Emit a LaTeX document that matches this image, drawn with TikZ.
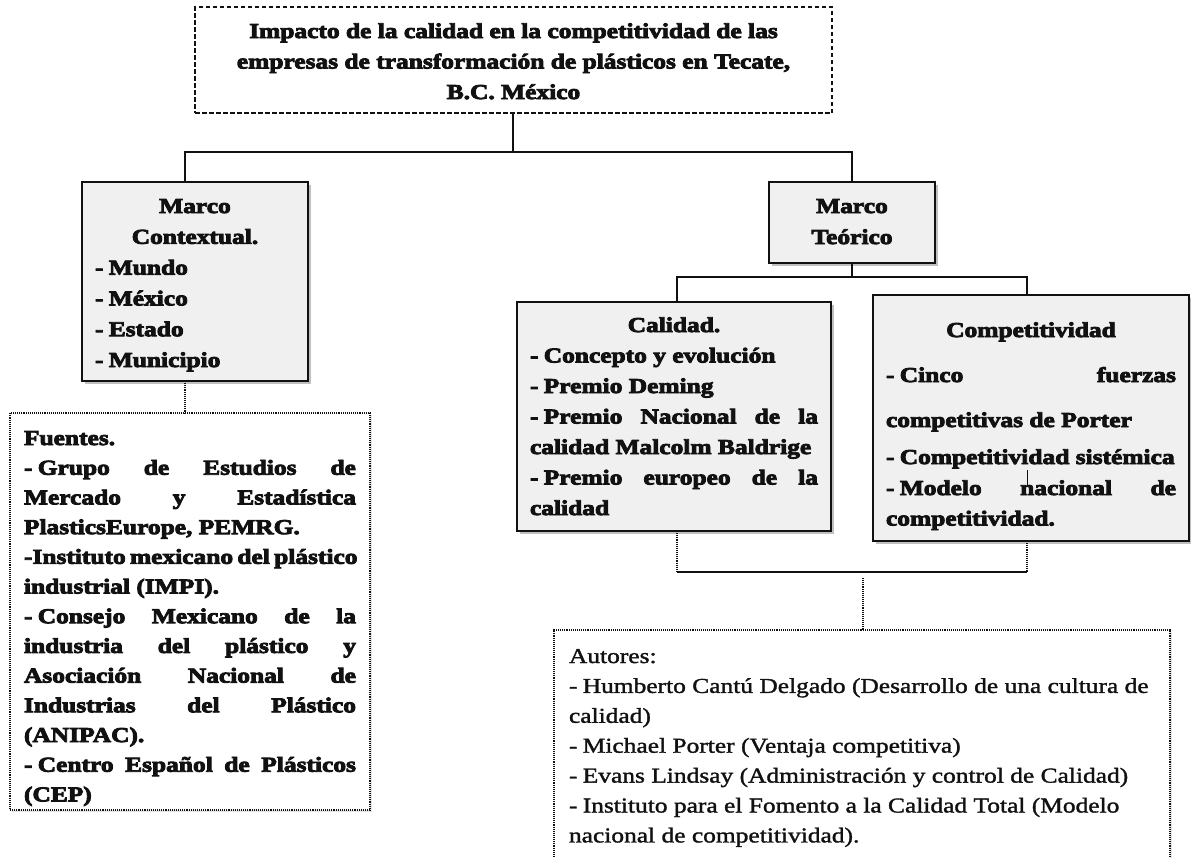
\documentclass[tikz,border=0pt]{standalone}
\usepackage{fontspec}
\setmainfont{Liberation Serif}[FakeStretch=1.2, FakeBold=1.5, BoldFeatures={FakeBold=4}]
\usetikzlibrary{shadows,calc}
\definecolor{boxgray}{HTML}{F0F0F0}
\definecolor{ink}{HTML}{111111}
% plain word spacing inside a line box
\newcommand\plainsp{\spaceskip=0pt\xspaceskip=0pt\relax}
% list dash followed by a fixed space
\newcommand\dsh{-\kern.25em\relax}
% one line stretched to the full text width
\newcommand\jline[1]{\leavevmode\hbox to\linewidth{\plainsp #1}}
% one line centred in the text width
\newcommand\ctline[1]{\leavevmode\hbox to\linewidth{\plainsp\hfil #1\hfil}}
% one line kept in one piece
\newcommand\nline[1]{\leavevmode\mbox{\plainsp #1}}
\begin{document}
\begin{tikzpicture}[x=1pt,y=-1pt,
  base/.style={anchor=north west, inner ysep=0pt, outer sep=0pt, align=left, text=ink},
  solidbox/.style={base, draw=ink, line width=1.4pt, fill=boxgray,
    drop shadow={shadow xshift=2.5pt, shadow yshift=-2.5pt, fill=black!45, opacity=0.55}},
  dotbox/.style={base, draw=ink, line width=1.2pt, dash pattern=on 1.1pt off 1pt, fill=white,
    drop shadow={shadow xshift=1.5pt, shadow yshift=-2pt, fill=black!25, opacity=0.4}},
  dashbox/.style={base, draw=ink, line width=1.2pt, dash pattern=on 4.5pt off 2.5pt, fill=white},
  conn/.style={draw=ink, line width=1.3pt},
  dotconn/.style={draw=ink, line width=1.2pt, dash pattern=on 1.1pt off 1pt},
  bigbold/.style={font=\fontsize{21.2}{#1}\selectfont\bfseries},
  bigreg/.style={font=\fontsize{21.2}{#1}\selectfont},
]
\useasboundingbox (0,0) rectangle (1191,857);
\clip (0,0) rectangle (1191,857);

% title
\node[dashbox, bigbold=30.5, inner xsep=0pt, text width=637pt, text height=31pt, text depth=75pt] (top) at (195,7)
  {\ctline{Impacto de la calidad en la competitividad de las}\\
   \ctline{empresas de transformación de plásticos en Tecate,}\\
   \ctline{B.C. México}};

% context branch
\node[solidbox, bigbold=30.8, inner xsep=13pt, text width=200pt, text height=31pt, text depth=168pt] (ctx) at (82,182)
  {\ctline{Marco}\\\ctline{Contextual.}\\
   \nline{\dsh Mundo}\\\nline{\dsh México}\\\nline{\dsh Estado}\\\nline{\dsh Municipio}};

\node[dotbox, bigbold=29.7, inner xsep=14pt, text width=332pt, text height=32pt, text depth=365pt] (fue) at (10,413)
  {\nline{Fuentes.}\\
   \jline{\dsh Grupo de Estudios de}\\
   \jline{Mercado y Estadística}\\
   \nline{PlasticsEurope, PEMRG.}\\
   \jline{-Instituto mexicano del plástico}\\
   \nline{industrial (IMPI).}\\
   \jline{\dsh Consejo Mexicano de la}\\
   \jline{industria del plástico y}\\
   \jline{Asociación Nacional de}\\
   \jline{Industrias del Plástico}\\
   \nline{(ANIPAC).}\\
   \jline{\dsh Centro Español de Plásticos}\\
   \nline{(CEP)}};

% theory branch
\node[solidbox, bigbold=31, align=center, inner xsep=0pt, text width=166pt, text height=31pt, text depth=50pt] (teo) at (769,182)
  {Marco\\Teórico};

\node[solidbox, bigbold=30.5, inner xsep=13pt, text width=288pt, text height=30pt, text depth=199pt] (cal) at (517,302)
  {\ctline{Calidad.}\\
   \nline{\dsh Concepto y evolución}\\
   \nline{\dsh Premio Deming}\\
   \jline{\dsh Premio Nacional de la}\\
   \nline{calidad Malcolm Baldrige}\\
   \jline{\dsh Premio europeo de la}\\
   \nline{calidad}};

\node[solidbox, bigbold=30.5, inner xsep=13pt, text width=290pt, text height=42pt, text depth=204pt] (comp) at (873,295)
  {\ctline{Competitividad}\\[14.5pt]
   \jline{\dsh Cinco fuerzas}\\[14.5pt]
   \nline{competitivas de Porter}\\[6.5pt]
   \nline{\dsh Competitividad sistémica}\\[0.5pt]
   \jline{\dsh Modelo nacional de}\\
   \nline{competitividad.}};

\node[dotbox, bigreg=29.9, inner xsep=15pt, text width=586pt, text height=33pt, text depth=250pt] (aut) at (554,630)
  {\nline{Autores:}\\
   \nline{\dsh Humberto Cantú Delgado (Desarrollo de una cultura de}\\
   \nline{calidad)}\\
   \nline{\dsh Michael Porter (Ventaja competitiva)}\\
   \nline{\dsh Evans Lindsay (Administración y control de Calidad)}\\
   \nline{\dsh Instituto para el Fomento a la Calidad Total (Modelo}\\
   \nline{nacional de competitividad).}};

% connectors
\coordinate (j1) at (513,152);
\coordinate (j2) at (852,277);
\coordinate (j3a) at (677,572);
\coordinate (j3b) at (1027,572);
\coordinate (j4) at (863,578);
\coordinate (mk) at (1027,470);

\draw[conn] (top.south -| j1) -- (j1);
\draw[conn] ([xshift=-10pt]ctx.north) |- (j1) -| (teo.north);
\draw[dotconn] ([xshift=-10pt]ctx.south) -- ([xshift=-10pt]ctx.south |- fue.north);

\draw[conn] (teo.south) -- (j2);
\draw[conn] ([xshift=3pt]cal.north) |- (j2) -| ([xshift=-4pt]comp.north);

\draw[dotconn] ([xshift=3pt]cal.south) -- (j3a);
\draw[conn] (j3a) -- (j3b);
\draw[dotconn] ([xshift=-4pt]comp.south) -- (j3b);
\draw[dotconn] (j4) -- (j4 |- aut.north);
\draw[conn, line width=1pt] (mk) -- ++(0,17);
\end{tikzpicture}
\end{document}
